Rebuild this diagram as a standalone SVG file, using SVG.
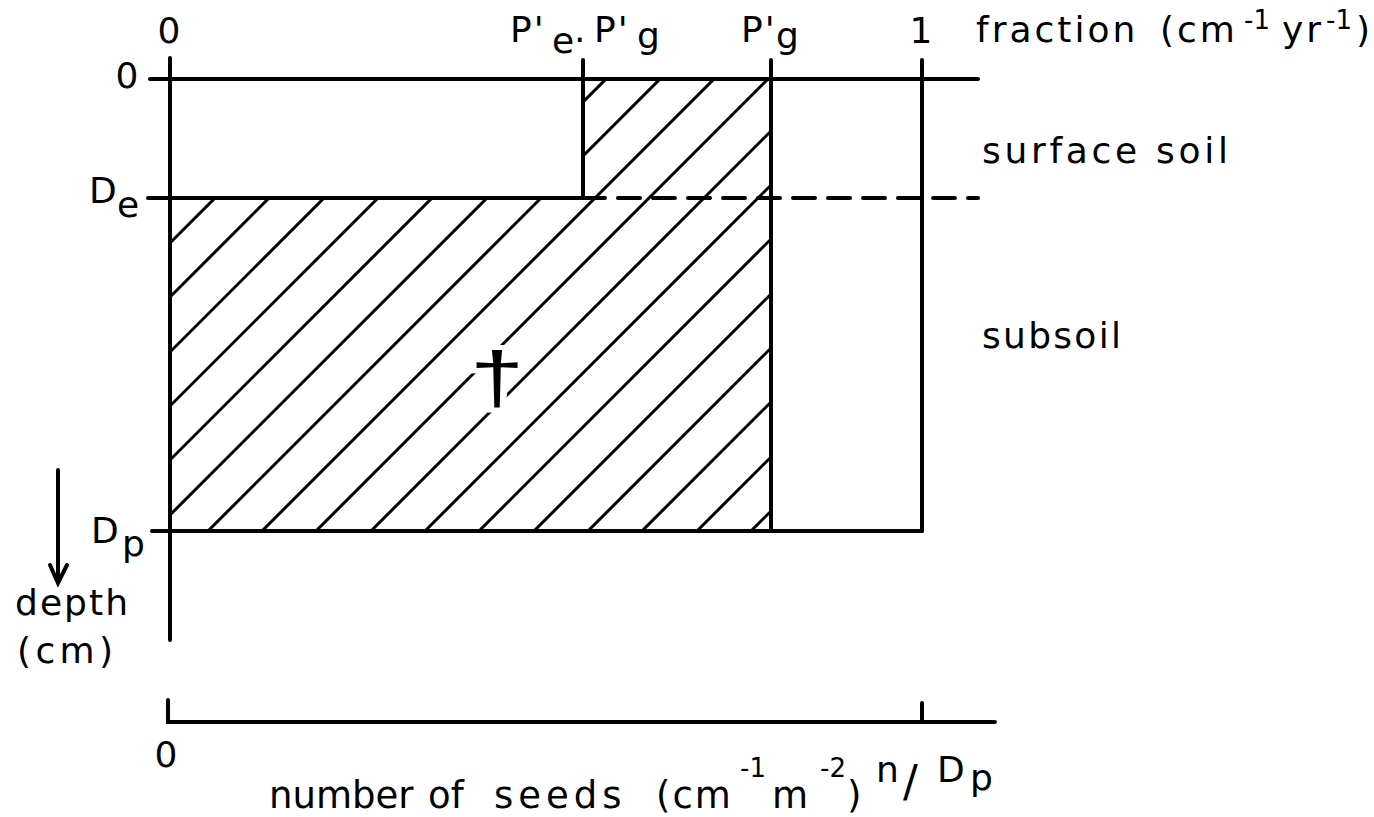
<svg xmlns="http://www.w3.org/2000/svg" width="1374" height="817" viewBox="0 0 1374 817">
<style>
.ln{stroke:#000;stroke-width:4;fill:none;stroke-linecap:round}
.ht{stroke:#000;stroke-width:3;fill:none}
.t{font-family:"DejaVu Sans",sans-serif;font-size:36px;letter-spacing:2px;fill:#000}
.b{font-size:37px}
.sup{font-size:26px;letter-spacing:0}
</style>
<defs>
<clipPath id="hclip"><polygon points="583,79 771,79 771,531 170,531 170,198 583,198"/></clipPath>
</defs>
<rect width="1374" height="817" fill="#fff"/>
<g id="hatch" clip-path="url(#hclip)">
<path class="ht" d="M-147,560L373,40M-93,560L427,40M-38,560L482,40M16,560L536,40M70,560L590,40M125,560L645,40M179,560L699,40M233,560L753,40M287,560L807,40M342,560L862,40M396,560L916,40M450,560L970,40M505,560L1025,40M559,560L1079,40M613,560L1133,40M668,560L1188,40M722,560L1242,40"/>
</g>
<g id="dagger">
<text transform="translate(497,402) scale(1.35,1)" x="0" y="0" text-anchor="middle" style="font-family:'Liberation Sans',sans-serif;font-size:72px;fill:#000;stroke:#fff;stroke-width:10;paint-order:stroke">†</text>
</g>
<g id="frame">
<line class="ln" x1="170" y1="58" x2="170" y2="640"/>
<line class="ln" x1="150" y1="79" x2="978" y2="79"/>
<line class="ln" x1="583" y1="60" x2="583" y2="198"/>
<line class="ln" x1="148" y1="198" x2="583" y2="198"/>
<line class="ln" x1="583" y1="198" x2="978" y2="198" stroke-dasharray="22 13" stroke-linecap="butt"/>
<line class="ln" x1="771" y1="60" x2="771" y2="531"/>
<line class="ln" x1="922" y1="60" x2="922" y2="531"/>
<line class="ln" x1="152" y1="531" x2="922" y2="531"/>
</g>
<g id="depth-arrow">
<line class="ln" x1="58" y1="470" x2="58" y2="582"/>
<polyline class="ln" points="50,565 58,583 67,565"/>
</g>
<g id="lower-axis">
<polyline class="ln" points="168,700 168,722 995,722"/>
<line class="ln" x1="922" y1="703" x2="922" y2="722"/>
</g>
<g id="labels">
<text class="t" x="170" y="43" text-anchor="middle">0</text>
<text class="t" x="510" y="42">P'<tspan x="552" y="53">e</tspan><tspan x="574" y="42">.</tspan><tspan x="594" y="42">P'</tspan><tspan x="637" y="48">g</tspan></text>
<text class="t" x="741" y="42">P'<tspan x="776" y="48">g</tspan></text>
<text class="t" x="922" y="43" text-anchor="middle">1</text>
<text class="t" x="976" y="42" style="letter-spacing:3px">fraction<tspan x="1160">(cm</tspan><tspan class="sup" x="1244" y="29">-1</tspan><tspan x="1282" y="42">yr</tspan><tspan class="sup" x="1326" y="29">-1</tspan><tspan x="1356" y="42">)</tspan></text>
<text class="t" x="128" y="88" text-anchor="middle">0</text>
<text class="t" x="89" y="203">D<tspan x="117" y="217">e</tspan></text>
<text class="t" x="91" y="543">D<tspan x="122" y="556">p</tspan></text>
<text class="t" x="15" y="615" textLength="115" lengthAdjust="spacing">depth</text>
<text class="t" x="17" y="663" textLength="98" lengthAdjust="spacing">(cm)</text>
<text class="t" x="982" y="163" textLength="248" lengthAdjust="spacing">surface soil</text>
<text class="t" x="982" y="348" textLength="141" lengthAdjust="spacing">subsoil</text>
<text class="t" x="167" y="767" text-anchor="middle">0</text>
<text class="t b" x="269" y="808" style="letter-spacing:0px">number<tspan x="428">of</tspan><tspan x="494" style="letter-spacing:5px">seeds</tspan><tspan x="656" style="letter-spacing:2px">(cm</tspan><tspan class="sup" x="740" y="777">-1</tspan><tspan x="772" y="808">m</tspan><tspan class="sup" x="820" y="777">-2</tspan><tspan x="847" y="808">)</tspan></text>
<text class="t" x="876" y="782">n<tspan x="903" y="797" style="font-size:44px">/</tspan><tspan x="937" y="782">D</tspan><tspan x="970" y="790">p</tspan></text>
</g>
</svg>
